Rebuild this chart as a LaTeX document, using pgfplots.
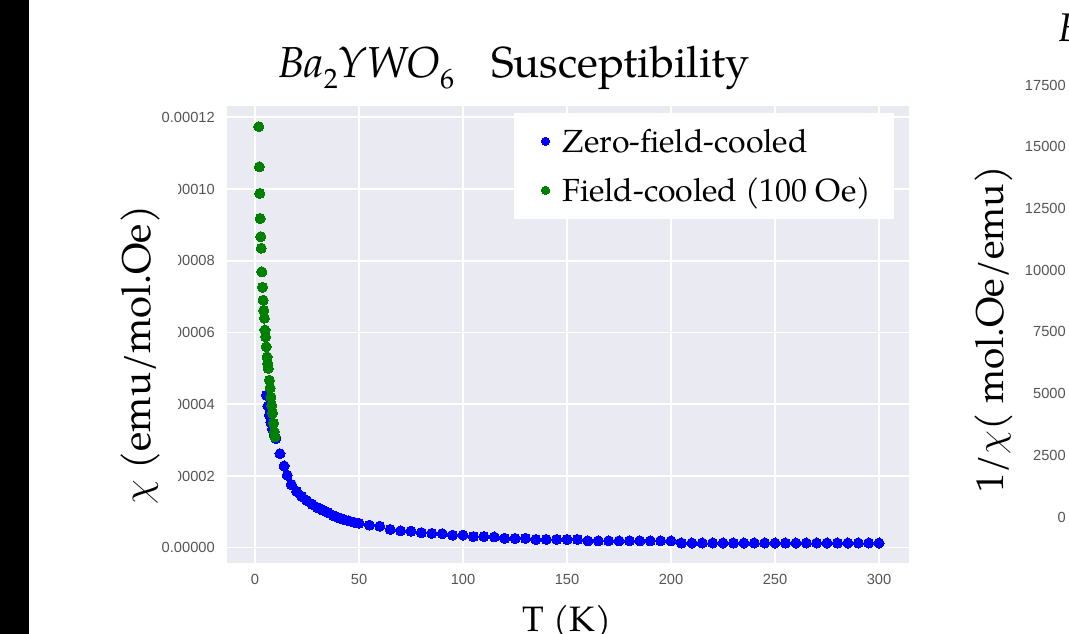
\RequirePackage{fix-cm}
\documentclass[border=0pt]{standalone}
\usepackage{fontspec}
\setmainfont{TeX Gyre Pagella}
\newfontfamily\ticksf{Liberation Sans}
\usepackage{pgfplots}
\pgfplotsset{compat=1.18}
\definecolor{bggray}{HTML}{EAEAF2}
\definecolor{tickgray}{HTML}{555555}
\definecolor{zfcblue}{RGB}{0,0,255}
\definecolor{fcgreen}{RGB}{0,128,0}
\def\pxu{0.75pt}
\newcommand{\chem}{\textit{Ba}\raisebox{-0.26em}{\fontsize{21}{21}\selectfont 2}\textit{YWO}\raisebox{-0.26em}{\fontsize{21}{21}\selectfont 6}}

\pgfplotstableread{
T chi
5.5 4.25e-5
6.2 3.95e-5
6.9 3.70e-5
7.6 3.50e-5
8.4 3.30e-5
9.2 3.15e-5
10.0 3.04e-5
12.0 2.62e-5
14.0 2.28e-5
15.5 2.02e-5
17.5 1.76e-5
20.0 1.57e-5
22.5 1.43e-5
25.0 1.31e-5
27.5 1.21e-5
30.0 1.12e-5
32.5 1.05e-5
35.0 9.8e-6
37.5 9.0e-6
40.0 8.4e-6
42.5 7.9e-6
45.0 7.5e-6
47.5 7.1e-6
50.0 6.8e-6
55 6.3e-6
60 6.0e-6
65 5.1e-6
70 4.7e-6
75 4.6e-6
80 4.2e-6
85 4.0e-6
90 3.9e-6
95 3.5e-6
100 3.5e-6
105 3.1e-6
110 3.1e-6
115 3.0e-6
120 2.6e-6
125 2.6e-6
130 2.6e-6
135 2.3e-6
140 2.3e-6
145 2.3e-6
150 2.3e-6
155 2.3e-6
160 1.9e-6
165 1.9e-6
170 1.9e-6
175 1.9e-6
180 1.9e-6
185 1.9e-6
190 1.9e-6
195 1.9e-6
200 1.9e-6
205 1.3e-6
210 1.3e-6
215 1.3e-6
220 1.3e-6
225 1.3e-6
230 1.3e-6
235 1.3e-6
240 1.3e-6
245 1.3e-6
250 1.3e-6
255 1.3e-6
260 1.3e-6
265 1.3e-6
270 1.3e-6
275 1.3e-6
280 1.3e-6
285 1.3e-6
290 1.3e-6
295 1.3e-6
300 1.3e-6
}\zfc

\pgfplotstableread{
T chi
1.8 1.174e-4
2.1 1.062e-4
2.3 9.88e-5
2.5 9.18e-5
2.8 8.67e-5
3.0 8.35e-5
3.3 7.69e-5
3.6 7.26e-5
3.9 6.90e-5
4.2 6.62e-5
4.5 6.40e-5
4.8 6.07e-5
5.1 5.88e-5
5.4 5.60e-5
5.8 5.32e-5
6.1 5.14e-5
6.4 5.00e-5
6.9 4.67e-5
7.3 4.45e-5
7.6 4.20e-5
8.0 3.97e-5
8.4 3.75e-5
8.9 3.47e-5
9.3 3.23e-5
9.6 3.09e-5
}\fc

\begin{document}
\begin{tikzpicture}
\useasboundingbox (0,0) rectangle ({1069*\pxu},{-634*\pxu});
\clip (0,0) rectangle ({1069*\pxu},{-634*\pxu});
\fill[white] (0,0) rectangle ({1069*\pxu},{-634*\pxu});
\fill[black] (0,0) rectangle ({29*\pxu},{-634*\pxu});

\begin{axis}[
  at={({227*\pxu},{-563*\pxu})}, anchor=south west,
  scale only axis, width={682*\pxu}, height={457*\pxu},
  xmin=-13.46, xmax=314.4, ymin=-4.27e-6, ymax=1.2315e-4,
  axis background/.style={fill=bggray},
  axis line style={draw=none},
  major tick length=0pt,
  grid=major, grid style={white, line width=1.2pt},
  xtick={0,50,100,150,200,250,300},
  xticklabels={0,50,100,150,200,250,300},
  ytick={0,2e-5,4e-5,6e-5,8e-5,1e-4,1.2e-4},
  yticklabels={0.00000,0.00002,0.00004,0.00006,0.00008,0.00010,0.00012},
  scaled y ticks=false, scaled x ticks=false,
  tick label style={font=\ticksf\fontsize{11}{13}\selectfont, text=tickgray, inner sep=0pt},
  xticklabel style={yshift={-11*\pxu}},
  yticklabel style={xshift={-12*\pxu}},
  title={\chem\hspace{0.85em}Susceptibility},
  title style={at={(axis description cs:0.4208,1.0459)}, anchor=base, font=\fontsize{32.5}{38}\selectfont, inner sep=0pt},
  xlabel={T (K)},
  xlabel style={at={(axis description cs:0.4985,-0.1488)}, anchor=base, font=\fontsize{26.5}{32}\selectfont, inner sep=0pt},
  ylabel={$\chi$ (emu/mol.Oe)},
  ylabel style={at={(axis description cs:-0.1129,0.4552)}, anchor=base, rotate=0,
    font=\fontsize{30}{36}\selectfont, fill=white, inner xsep=0pt, inner ysep={18*\pxu}, minimum width={350*\pxu}},
  legend style={at={(axis description cs:0.4208,0.9847)}, anchor=north west, fill=white, draw=none,
    font=\fontsize{24}{29}\selectfont, inner xsep={23.4*\pxu}, inner ysep={10.5*\pxu}, row sep={13.5*\pxu},
    nodes={inner xsep=0pt, inner ysep={5*\pxu}}},
  legend cell align=left,
  legend image code/.code={\path (0cm,0cm) (0.65cm,0cm); \draw[#1, mark size=3.1pt] plot coordinates {(0.2cm,0cm)};},
]
\addplot[only marks, mark=*, mark size=3.8pt, mark options={fill=zfcblue, draw=zfcblue, line width=0pt}] table[x=T, y=chi] {\zfc};
\addlegendentry{Zero-field-cooled}
\addplot[only marks, mark=*, mark size=3.8pt, mark options={fill=fcgreen, draw=fcgreen, line width=0pt}] table[x=T, y=chi] {\fc};
\addlegendentry{Field-cooled (100 Oe)\hspace{6pt}}
\end{axis}

\begin{axis}[
  at={({1078*\pxu},{-535*\pxu})}, anchor=south west,
  scale only axis, width={300*\pxu}, height={465*\pxu},
  xmin=0, xmax=300, ymin=-729, ymax=18108,
  axis background/.style={fill=bggray},
  axis line style={draw=none},
  major tick length=0pt,
  xtick=\empty,
  ytick={0,2500,5000,7500,10000,12500,15000,17500},
  yticklabels={0,2500,5000,7500,10000,12500,15000,17500},
  scaled y ticks=false,
  tick label style={font=\ticksf\fontsize{11}{13}\selectfont, text=tickgray, inner sep=0pt},
  yticklabel style={xshift={-12*\pxu}},
  ylabel={1/$\chi$( mol.Oe/emu)},
  ylabel style={at={(axis description cs:-0.25,0.442)}, anchor=base, font=\fontsize{29}{35}\selectfont, inner sep=0pt},
]
\end{axis}
\node[anchor=base west, font=\fontsize{30}{36}\selectfont, inner sep=0pt] at ({1058*\pxu},{-42*\pxu}) {\chem};
\end{tikzpicture}
\end{document}
